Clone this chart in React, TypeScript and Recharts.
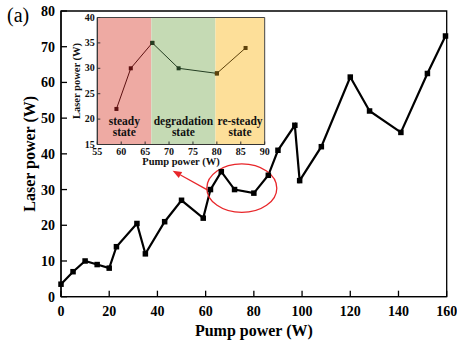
import { LineChart, Line, XAxis, YAxis, ReferenceArea, ReferenceDot, ReferenceLine, Label } from 'recharts';

// main curve: laser output vs pump power
const pumpPower = [0, 5, 10, 15, 20, 23, 31.5, 35, 43, 50, 59, 62, 66.5, 72, 80, 86, 90, 97, 99, 108, 120, 128, 141, 152, 159.5];
const laserPower = [3.5, 7, 10, 9, 8, 14, 20.5, 12, 21, 27, 22, 30, 35, 30, 29, 34, 41, 48, 32.5, 42, 61.5, 52, 46, 62.5, 73];
const xTicks = [0, 20, 40, 60, 80, 100, 120, 140, 160];
const yTicks = [0, 10, 20, 30, 40, 50, 60, 70, 80];

// inset: zoom on the 55-90 W range
const insetPump = [59, 62, 66.5, 72, 80, 86];
const insetLaser = [22, 30, 35, 30, 29, 34];
const insetXTicks = [55, 60, 65, 70, 75, 80, 85, 90];
const insetYTicks = [15, 20, 25, 30, 35, 40];
const stageKeys = ['steady', 'degradation', 'resteady'];
const stageNames = ['steady', 'degradation', 're-steady'];
const stageBounds = [55, 66.3, 79.7, 90];
const stageSegments = [[0, 2], [2, 4], [4, 5]];
const stageFills = ['#EEAAA3', '#C5DAB4', '#FDDF99'];
const stageStrokes = ['#5C1010', '#243E22', '#5E420A'];

const SERIF = '"Liberation Serif", "Times New Roman", serif';

const mainData = pumpPower.map((p, i) => ({ pump: p, laser: laserPower[i] }));

const insetData = insetPump.map((p, i) => {
  const row: Record<string, number> = { pump: p };
  stageSegments.forEach(([a, b], s) => {
    if (i >= a && i <= b) row[stageKeys[s]] = insetLaser[i];
  });
  return row;
});

const MainXTick = ({ x, y, payload }: any) => (
  <g>
    <line x1={x} y1={y} x2={x} y2={y - 6} stroke="#000" strokeWidth={1.3} />
    <text x={x} y={y + 19} textAnchor="middle" fontSize={14} fontWeight="bold" fontFamily={SERIF} fill="#000">
      {payload.value}
    </text>
  </g>
);

const MainYTick = ({ x, y, payload }: any) => (
  <g>
    <line x1={x} y1={y} x2={x + 6} y2={y} stroke="#000" strokeWidth={1.3} />
    <text x={x - 6} y={y} dy="0.36em" textAnchor="end" fontSize={14} fontWeight="bold" fontFamily={SERIF} fill="#000">
      {payload.value}
    </text>
  </g>
);

const InsetXTick = ({ x, y, payload }: any) => (
  <g>
    <line x1={x} y1={y} x2={x} y2={y - 3} stroke="#333" strokeWidth={1} />
    <text x={x} y={y + 10.5} textAnchor="middle" fontSize={10} fontWeight="bold" fontFamily={SERIF} fill="#111">
      {payload.value}
    </text>
  </g>
);

const InsetYTick = ({ x, y, payload }: any) => (
  <g>
    <line x1={x} y1={y} x2={x + 3} y2={y} stroke="#333" strokeWidth={1} />
    <text x={x - 2.5} y={y} dy="0.3em" textAnchor="end" fontSize={10} fontWeight="bold" fontFamily={SERIF} fill="#111">
      {payload.value}
    </text>
  </g>
);

const squareDot = (size: number, color: string) => (props: any) => {
  const { cx, cy, index } = props;
  if (cx == null || cy == null || props.value == null) return <g key={`d-${index}`} />;
  return <rect key={`d-${index}`} x={cx - size / 2} y={cy - size / 2} width={size} height={size} fill={color} />;
};

const Arrow = ({ x1, y1, x2, y2 }: any) => {
  const ang = Math.atan2(y2 - y1, x2 - x1);
  const len = 9;
  const w = 3.5;
  const bx = x2 - len * Math.cos(ang);
  const by = y2 - len * Math.sin(ang);
  const px = -Math.sin(ang) * w;
  const py = Math.cos(ang) * w;
  return (
    <g>
      <line x1={x1} y1={y1} x2={bx} y2={by} stroke="#E8262A" strokeWidth={1.3} />
      <polygon points={`${x2},${y2} ${bx + px},${by + py} ${bx - px},${by - py}`} fill="#E8262A" />
    </g>
  );
};

const Ellipse = ({ cx, cy }: any) => (
  <ellipse cx={cx} cy={cy} rx={35} ry={24.3} fill="none" stroke="#E8262A" strokeWidth={1.3} />
);

const stageLabel = (name: string) => (props: any) => {
  const { x, y, width, height } = props.viewBox;
  const cx = x + width / 2;
  const bottom = y + height;
  return (
    <text textAnchor="middle" fontSize={11.5} fontWeight="bold" fontFamily={SERIF} fill="#111">
      <tspan x={cx} y={bottom - 19.5}>{name}</tspan>
      <tspan x={cx} y={bottom - 8.3}>state</tspan>
    </text>
  );
};

const InsetChart = () => (
  <LineChart width={210} height={165} data={insetData} margin={{ top: 7.5, right: 5.3, left: 0, bottom: 0 }}>
    {stageNames.map((name, s) => (
      <ReferenceArea
        key={name}
        x1={stageBounds[s]}
        x2={stageBounds[s + 1]}
        y1={15}
        y2={40}
        fill={stageFills[s]}
        fillOpacity={1}
        stroke="none"
        label={stageLabel(name)}
      />
    ))}
    <ReferenceArea x1={55} x2={90} y1={15} y2={40} fill="none" stroke="#444" strokeWidth={1} />
    <XAxis
      type="number"
      dataKey="pump"
      domain={[55, 90]}
      ticks={insetXTicks}
      height={30.5}
      tickSize={0}
      tickMargin={0}
      tickLine={false}
      tick={<InsetXTick />}
      axisLine={{ stroke: '#333', strokeWidth: 1 }}
      interval={0}
    >
      <Label
        content={(p: any) => (
          <text x={p.viewBox.x + p.viewBox.width / 2} y={p.viewBox.y + 20.5} textAnchor="middle" fontSize={10.5} fontWeight="bold" fontFamily={SERIF} fill="#111">
            Pump power (W)
          </text>
        )}
      />
    </XAxis>
    <YAxis
      type="number"
      domain={[15, 40]}
      ticks={insetYTicks}
      width={37.3}
      tickSize={0}
      tickMargin={0}
      tickLine={false}
      tick={<InsetYTick />}
      axisLine={{ stroke: '#333', strokeWidth: 1 }}
      interval={0}
    >
      <Label
        content={(p: any) => {
          const lx = p.viewBox.x + 20;
          const ly = p.viewBox.y + p.viewBox.height / 2;
          return (
            <text x={lx} y={ly} transform={`rotate(-90 ${lx} ${ly})`} textAnchor="middle" fontSize={10.5} fontWeight="bold" fontFamily={SERIF} fill="#111">
              Laser power (W)
            </text>
          );
        }}
      />
    </YAxis>
    {stageKeys.map((k, s) => (
      <Line
        key={k}
        dataKey={k}
        stroke={stageStrokes[s]}
        strokeWidth={1}
        dot={squareDot(4, stageStrokes[s])}
        activeDot={false}
        isAnimationActive={false}
      />
    ))}
  </LineChart>
);

export default function App() {
  return (
    <div style={{ position: 'absolute', left: 0, top: 0, width: 457, height: 345, background: '#fff', fontFamily: SERIF }}>
      <LineChart width={457} height={345} data={mainData} margin={{ top: 11, right: 10.3, left: 0, bottom: 0 }}>
        <ReferenceArea x1={0} x2={160} y1={0} y2={80} fill="none" stroke="#000" strokeWidth={1.3} />
        <XAxis
          type="number"
          dataKey="pump"
          domain={[0, 160]}
          ticks={xTicks}
          height={48.3}
          tickSize={0}
          tickMargin={0}
          tickLine={false}
          tick={<MainXTick />}
          axisLine={{ stroke: '#000', strokeWidth: 1.3 }}
          interval={0}
        >
          <Label
            content={(p: any) => (
              <text x={p.viewBox.x + p.viewBox.width / 2} y={p.viewBox.y + 39.3} textAnchor="middle" fontSize={16} fontWeight="bold" fontFamily={SERIF} fill="#000">
                Pump power (W)
              </text>
            )}
          />
        </XAxis>
        <YAxis
          type="number"
          domain={[0, 80]}
          ticks={yTicks}
          width={61}
          tickSize={0}
          tickMargin={0}
          tickLine={false}
          tick={<MainYTick />}
          axisLine={{ stroke: '#000', strokeWidth: 1.3 }}
          interval={0}
        >
          <Label
            content={(p: any) => {
              const lx = p.viewBox.x + 35;
              const ly = p.viewBox.y + p.viewBox.height / 2;
              return (
                <text x={lx} y={ly} transform={`rotate(-90 ${lx} ${ly})`} textAnchor="middle" fontSize={16} fontWeight="bold" fontFamily={SERIF} fill="#000">
                  Laser power (W)
                </text>
              );
            }}
          />
        </YAxis>
        <ReferenceDot x={75} y={30.4} r={1} shape={<Ellipse />} />
        <ReferenceLine segment={[{ x: 60.7, y: 29.9 }, { x: 46.3, y: 35.3 }]} shape={<Arrow />} />
        <Line
          dataKey="laser"
          stroke="#000"
          strokeWidth={2.2}
          dot={squareDot(5.5, '#000')}
          activeDot={false}
          isAnimationActive={false}
        />
      </LineChart>
      <div style={{ position: 'absolute', left: 60, top: 10, width: 210, height: 165 }}>
        <InsetChart />
      </div>
      <div style={{ position: 'absolute', left: 7, top: 5, fontSize: 20, lineHeight: '20px', fontFamily: SERIF, color: '#000' }}>
        (a)
      </div>
    </div>
  );
}
